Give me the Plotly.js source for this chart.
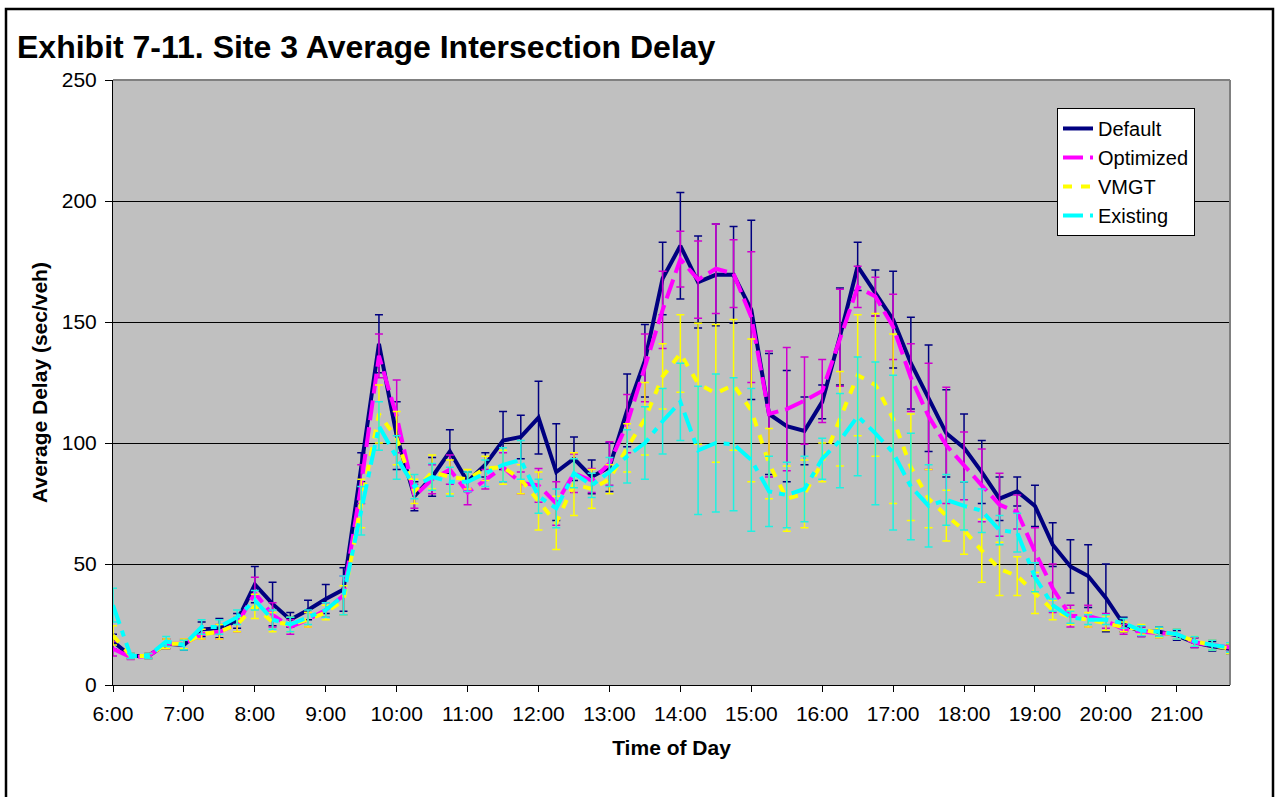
<!DOCTYPE html>
<html>
<head>
<meta charset="utf-8">
<script src="https://cdn.plot.ly/plotly-3.0.1.min.js"></script>
<style>
html,body{margin:0;padding:0;background:#fff;}
#chart{width:1275px;height:797px;}
</style>
</head>
<body>
<div id="chart"></div>
<script>
const times = ["6:00","6:15","6:30","6:45","7:00","7:15","7:30","7:45","8:00","8:15","8:30","8:45",
"9:00","9:15","9:30","9:45","10:00","10:15","10:30","10:45","11:00","11:15","11:30","11:45",
"12:00","12:15","12:30","12:45","13:00","13:15","13:30","13:45","14:00","14:15","14:30","14:45",
"15:00","15:15","15:30","15:45","16:00","16:15","16:30","16:45","17:00","17:15","17:30","17:45",
"18:00","18:15","18:30","18:45","19:00","19:15","19:30","19:45","20:00","20:15","20:30","20:45",
"21:00","21:15","21:30","21:45"];

const hourLabels = ["6:00","7:00","8:00","9:00","10:00","11:00","12:00","13:00","14:00","15:00",
"16:00","17:00","18:00","19:00","20:00","21:00"];

const defaultDelay = [18,12,12,17,16.5,23,23.5,26.5,41.5,33.5,27,31,35.5,39.5,90,141,103,78,86,96.5,84,91,101,102.5,
110.5,88,93.5,86,90,113.5,134,168,181.5,166.5,169.5,169.5,155,112,107,105,117,144,173,162,151,133,118.5,104,
98,88,77,80,74,58,49,45,36,25,22,22,20.5,17.5,16,15];
const defaultErr = [3,1,1,2,2,3,4,3,7.5,9,3,4,6,9,6,12,14,6,8,9,4,5,12,9,
15,20,9,7,10,15,15,15,22,19,21,20,37,25,23,14,7,20,10,9.5,20,19,22,18,
14,13,9,6,8.5,9,11,13,14,3,2,2,2,2,2,2];

const optimizedDelay = [15,11.5,12,17,17,21,22,25,38,29,24,27,31,37,83,136,111,78,85,89,79.5,85,90,83.5,
82.5,75,87.5,84.5,91.5,108,131,155,176,167.5,172,170,152,112,114,117.5,121.5,143.5,164.5,160.5,148,127,111,99,
90.5,82.5,74.5,71.5,55,40,28.5,28.5,26.5,23,22,21.5,21,17.5,16.5,15.5];
const optimizedErr = [3,1,1,2,2,2,3,3,6.5,5,3,3,3,8,8,9,15,5,6,6,5,4,6,4.5,
7,9,8,5,9,12,14,16,11.5,16,18.5,14,27,26,25.5,18,13,20,8.5,8,13.5,14,22,24,
14,15,13,7,10,10,4.5,4.5,3,2,2,2,2,2,2,2];

const vmgtDelay = [20.5,12,12,17,17,21,22,25,32.5,26,25,27,30,35,75,112,102,80,88,86,85,89.5,90,85,
76,67,83,81,85,98,110,127.5,137,124.5,120.5,124,113.5,91.5,77,79,92,110,128,124,110,90,77,70,
64,55.5,48,45,38,31,28,27,25.5,24,23,21.5,21,18,16.5,15];
const vmgtErr = [4,1,1,2,2,2,3,3,5,4,3,3,3,6,10,12,11,5,7,7,4,5,7,6,
12,11,13,8,6,10,15,13.5,16,25,28.5,27,29.5,14.5,13.5,14,8,19.5,25,29.5,35,22,12,10.5,
10,13,11,8,8.5,4,3,3,3,2,2,2,2,2,2,2];

const existingDelay = [33,12,12,18,16.5,24,24,28,35,27,25,28,31,37,72,107,94,82,86,84,84,87.5,91,93,
78,73,87.5,82.5,88,94.5,100,109,117,97,100,99.5,93,80,78.5,81,93.5,101,111,104,96,82,74,76.5,
74,72,64,63,44.5,33,28,27,27,25.5,22.5,22,21,18,16.5,15.5];
const existingErr = [7,1,1,2,2,3,3,3,4,4,3,3,3,8,10,10,9,5,5.5,6,4,5.5,7,8,
7,8,6,5,6,11,15,13.5,16,26.5,28.5,27.5,29.5,14.5,13.5,13.5,8.5,19.5,24.5,29.5,32,22,17,10.5,
10,9,6,8,6,2.5,2.5,2,2,2,2,2,2,2,2,2];

const FONT = "Arial, 'Liberation Sans', sans-serif";

function series(name, y, err, color, dash, errColor) {
  return {
    type: 'scatter', mode: 'lines', name: name,
    x: times, y: y,
    line: {color: color, width: 4, dash: dash},
    error_y: {type: 'data', array: err, visible: true, color: errColor, thickness: 1.5, width: 4},
    hoverinfo: 'x+y+name'
  };
}

const data = [
  series('Default', defaultDelay, defaultErr, '#000080', 'solid', '#000080'),
  series('Optimized', optimizedDelay, optimizedErr, '#FF00FF', '20px,7px', '#D000D0'),
  series('VMGT', vmgtDelay, vmgtErr, '#FFFF00', '9px,9px', '#FFFF00'),
  series('Existing', existingDelay, existingErr, '#00FFFF', '20px,7px,6px,7px', '#20F0E0')
];

const L = 113, R = 45, T = 80, B = 111.5;
const W = 1275, H = 797;
const pw = W - L - R, ph = H - T - B;
function px2x(px) { return (px - L) / pw; }
function py2y(py) { return (H - B - py) / ph; }

const layout = {
  width: W, height: H,
  margin: {l: L, r: R, t: T, b: B, pad: 0},
  paper_bgcolor: '#FFFFFF',
  plot_bgcolor: '#C0C0C0',
  font: {family: FONT, color: '#000000', size: 21},
  title: {
    text: 'Exhibit 7-11. Site 3 Average Intersection Delay',
    font: {family: FONT, size: 32, color: '#000000', weight: 'bold'},
    xref: 'container', yref: 'container',
    x: 17 / W, xanchor: 'left',
    y: 1 - 47 / H, yanchor: 'middle'
  },
  xaxis: {
    type: 'category',
    range: [0, times.length - 1],
    tickmode: 'array', tickvals: hourLabels, ticktext: hourLabels,
    ticks: 'outside', ticklen: 6, tickwidth: 1, tickcolor: '#000000',
    ticklabelstandoff: 4,
    showline: true, linecolor: '#000000', linewidth: 1,
    showgrid: false, zeroline: false,
    tickfont: {family: FONT, size: 21, color: '#000000'},
    title: {text: 'Time of Day', font: {family: FONT, size: 21, color: '#000000', weight: 'bold'}, standoff: 16},
    automargin: false, fixedrange: true
  },
  yaxis: {
    range: [0, 250],
    tickmode: 'array', tickvals: [0, 50, 100, 150, 200, 250],
    ticks: 'outside', ticklen: 7, tickwidth: 1, tickcolor: '#000000',
    ticklabelstandoff: 4,
    showline: true, linecolor: '#000000', linewidth: 1,
    showgrid: true, gridcolor: '#000000', gridwidth: 1,
    zeroline: false,
    tickfont: {family: FONT, size: 21, color: '#000000'},
    title: {text: 'Average Delay (sec/veh)', font: {family: FONT, size: 21, color: '#000000', weight: 'bold'}, standoff: 8},
    automargin: false, fixedrange: true
  },
  legend: {
    x: px2x(1057), y: py2y(108), xanchor: 'left', yanchor: 'top',
    xref: 'paper', yref: 'paper',
    bgcolor: '#FFFFFF', bordercolor: '#000000', borderwidth: 1,
    font: {family: FONT, size: 20, color: '#000000'},
    traceorder: 'normal'
  },
  showlegend: true,
  shapes: [
    {type: 'line', xref: 'paper', yref: 'paper', x0: 0, x1: 1, y0: 1, y1: 1, line: {color: '#808080', width: 2}},
    {type: 'line', xref: 'paper', yref: 'paper', x0: 1, x1: 1, y0: 0, y1: 1, line: {color: '#808080', width: 2}},
    {type: 'rect', xref: 'paper', yref: 'paper', x0: px2x(6), x1: px2x(1273), y0: py2y(820), y1: py2y(9),
     line: {color: '#000000', width: 2.5}, fillcolor: 'rgba(0,0,0,0)', layer: 'above'}
  ]
};

Plotly.newPlot('chart', data, layout, {displayModeBar: false, staticPlot: true});
</script>
</body>
</html>
